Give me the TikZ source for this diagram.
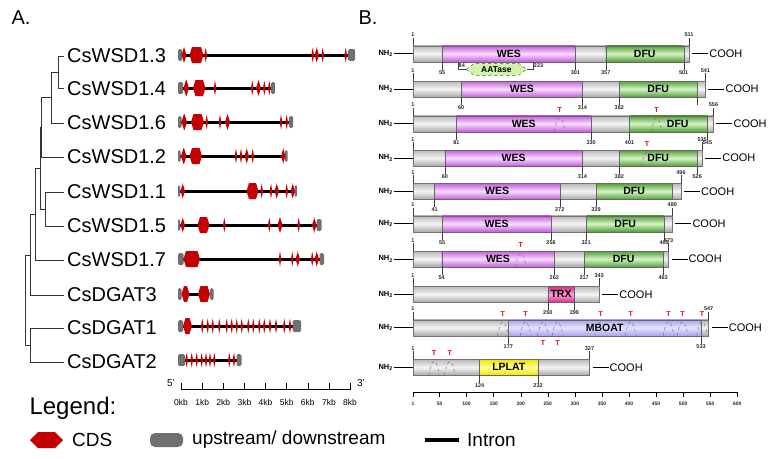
\documentclass[tikz,border=0pt]{standalone}
\usepackage{fontspec}
\setmainfont{Liberation Sans}
\usetikzlibrary{positioning}

\definecolor{cdsred}{RGB}{196,0,0}
\definecolor{utrgray}{RGB}{112,112,112}
\definecolor{wesdk}{RGB}{200,90,225}
\definecolor{weslt}{RGB}{247,222,252}
\definecolor{dfudk}{RGB}{80,160,55}
\definecolor{dfult}{RGB}{214,244,198}
\definecolor{trxdk}{RGB}{222,40,145}
\definecolor{trxlt}{RGB}{255,160,210}
\definecolor{mbodk}{RGB}{165,165,238}
\definecolor{mbolt}{RGB}{228,228,255}
\definecolor{lpldk}{RGB}{240,228,0}
\definecolor{lpllt}{RGB}{255,255,150}
\definecolor{aatfill}{RGB}{205,245,165}
\definecolor{tred}{RGB}{225,0,0}

\tikzset{
  cds/.style={fill=cdsred},
  utr/.style={fill=utrgray, rounded corners=1.5pt},
  intron/.style={line width=3pt, black},
  tree/.style={line width=0.6pt, black!80},
  panel/.style={font=\fontsize{20}{24}\selectfont},
  gname/.style={font=\fontsize{20}{24}\selectfont, anchor=west, inner sep=3pt},
  kblab/.style={font=\fontsize{8.5}{10}\selectfont, inner sep=0.5pt},
  pbar/.style={draw=black!55, line width=0.4pt, top color=black!28, bottom color=black!34, middle color=black!4},
  wes/.style={draw=black!60, line width=0.4pt, top color=wesdk, bottom color=wesdk, middle color=weslt},
  dfu/.style={draw=black!60, line width=0.4pt, top color=dfudk, bottom color=dfudk, middle color=dfult},
  trx/.style={draw=black!60, line width=0.4pt, top color=trxdk, bottom color=trxdk, middle color=trxlt},
  mboat/.style={draw=black!60, line width=0.4pt, top color=mbodk, bottom color=mbodk, middle color=mbolt},
  lplat/.style={draw=black!60, line width=0.4pt, top color=lpldk, bottom color=lpldk, middle color=lpllt},
  aat/.style={draw=black!70, dashed, line width=0.4pt, fill=aatfill},
  dlab/.style={font=\fontsize{10.5}{12}\selectfont\bfseries, inner sep=0pt},
  numlab/.style={font=\fontsize{5.5}{6}\selectfont\bfseries, inner sep=0.6pt, text=black!85},
  tmark/.style={font=\fontsize{7}{8}\selectfont\bfseries, text=tred, inner sep=0pt},
  tk/.style={line width=0.4pt, black!75},
  conn/.style={line width=0.8pt, black},
  arcd/.style={dashed, line width=0.4pt, black!60},
  nh/.style={font=\fontsize{7.5}{9}\selectfont\bfseries, inner sep=1pt},
  cooh/.style={font=\fontsize{11}{13}\selectfont, inner sep=1pt},
  legend/.style={font=\fontsize{24}{28}\selectfont, anchor=west},
  legitem/.style={font=\fontsize{19}{22}\selectfont, anchor=west, inner sep=1pt}
}

% gene structure pieces (x in px, y row)
\newcommand{\utr}[3]{\fill[utr] (#1,#3-6) rectangle (#2,#3+6);}
\newcommand{\cds}[3]{\fill[cds] (#1,#3) -- (#1+2.5,#3-8) -- (#2-2.5,#3-8) -- (#2,#3) -- (#2-2.5,#3+8) -- (#1+2.5,#3+8) -- cycle;}
\newcommand{\thinex}[2]{\fill[cds] (#1-1.3,#2) -- (#1,#2-7.5) -- (#1+1.3,#2) -- (#1,#2+7.5) -- cycle;}

% protein pieces (x in aa)
\newcount\labn
\newcommand{\toplab}[3]{\global\advance\labn by 1\relax
  \draw[tk] (#1,#2-8) -- (#1,#2-16) node[numlab, anchor=south] (lb\the\labn) {#3};}
\newcommand{\botlab}[3]{\global\advance\labn by 1\relax
  \draw[tk] (#1,#2+8) -- (#1,#2+16) node[numlab, anchor=north] (lb\the\labn) {#3};}
\newcommand{\prow}[3]{%
  \coordinate (#1l) at (1,#2);
  \coordinate (#1r) at (#3,#2);
  \draw[pbar] (1,#2-8) rectangle (#3,#2+8);
  \node[nh, left=19pt of #1l] (#1nh) {NH\textsubscript{2}};
  \draw[conn] (#1nh) -- (#1l);
  \node[cooh, right=19pt of #1r] (#1co) {COOH};
  \draw[conn] ([xshift=3pt]#1r) -- (#1co);
  \toplab{1}{#2}{1}\toplab{#3}{#2}{#3}}
\newcommand{\pdom}[6]{\draw[#1] (#2,#4-8) rectangle (#3,#4+8);
  \node[dlab] (#6) at ({(#2+#3)/2},#4) {#5};}
\newcommand{\ttop}[2]{\global\advance\labn by 1\relax
  \draw[arcd] (#1-10,#2+8) parabola bend (#1,#2-6) (#1+10,#2+8);
  \node[tmark] (lb\the\labn) at (#1,#2-14) {T};}
\newcommand{\tbot}[2]{\global\advance\labn by 1\relax
  \draw[arcd] (#1-10,#2+8) parabola bend (#1,#2-6) (#1+10,#2+8);
  \node[tmark] (lb\the\labn) at (#1,#2+15.5) {T};}

\begin{document}
\begin{tikzpicture}[x=1pt,y=-1pt]
\useasboundingbox (0,0) rectangle (782,458);

\node[panel] (pa) at (21,18) {A.};
\node[panel] (pb) at (368,18) {B.};

% gene names
\node[gname] (g13) at (64,56) {CsWSD1.3};
\node[gname] (g14) at (64,88.5) {CsWSD1.4};
\node[gname] (g16) at (64,123) {CsWSD1.6};
\node[gname] (g12) at (64,157) {CsWSD1.2};
\node[gname] (g11) at (64,192) {CsWSD1.1};
\node[gname] (g15) at (64,226) {CsWSD1.5};
\node[gname] (g17) at (64,260) {CsWSD1.7};
\node[gname] (d3) at (64,295) {CsDGAT3};
\node[gname] (d1) at (64,328) {CsDGAT1};
\node[gname] (d2) at (64,362) {CsDGAT2};

% tree
\coordinate (n1) at (58,72);
\draw[tree] (n1) |- (g13.west); \draw[tree] (n1) |- (g14.west);
\coordinate (n2) at (51,97);
\draw[tree] (n2) |- (n1); \draw[tree] (n2) |- (g16.west);
\coordinate (n3) at (41,127);
\draw[tree] (n3) |- (n2); \draw[tree] (n3) |- (g12.west);
\coordinate (n4) at (45,209);
\draw[tree] (n4) |- (g11.west); \draw[tree] (n4) |- (g15.west);
\coordinate (n5) at (40,168);
\draw[tree] (n5) |- (n3); \draw[tree] (n5) |- (n4);
\coordinate (n6) at (35,214);
\draw[tree] (n6) |- (n5); \draw[tree] (n6) |- (g17.west);
\coordinate (n7) at (30,255);
\draw[tree] (n7) |- (n6); \draw[tree] (n7) |- (d3.west);
\coordinate (n8) at (30,345);
\draw[tree] (n8) |- (d1.west); \draw[tree] (n8) |- (d2.west);
\coordinate (n9) at (25,300);
\draw[tree] (n9) |- (n7); \draw[tree] (n9) |- (n8);

% CsWSD1.3
\draw[intron] (182,55) -- (348,55);
\utr{178}{182}{55} \utr{348}{355}{55}
\cds{181.5}{186.5}{55} \cds{189.5}{203.5}{55} \cds{314.5}{319}{55}
\foreach \e in {205.7,312.7,322.7,345.7} \thinex{\e}{55};
% CsWSD1.4
\draw[intron] (183,88) -- (272,88);
\utr{178}{183}{88} \utr{271}{275}{88}
\cds{183.5}{189}{88} \cds{193}{205.5}{88} \cds{256}{261}{88}
\foreach \e in {215,252.3,264.3,269.3} \thinex{\e}{88};
% CsWSD1.6
\draw[intron] (181,122) -- (290,122);
\utr{178}{181.5}{122} \utr{289}{293}{122}
\cds{181.5}{187}{122} \cds{191}{204}{122} \cds{225}{230}{122}
\foreach \e in {206.7,220,281,286.7} \thinex{\e}{122};
% CsWSD1.2
\draw[intron] (180,156) -- (285,156);
\utr{178}{180.5}{156} \utr{285}{287.5}{156}
\cds{181}{186.5}{156} \cds{189.5}{202}{156} \cds{244.5}{249}{156} \cds{281}{285.5}{156}
\foreach \e in {236,241,252.7} \thinex{\e}{156};
% CsWSD1.1
\draw[intron] (180,191) -- (295,191);
\utr{178}{180}{191} \utr{294.5}{297}{191}
\cds{180.5}{185}{191} \cds{246.5}{258.5}{191} \cds{274.5}{279}{191} \cds{290.5}{295}{191}
\foreach \e in {261.7,271,286.7} \thinex{\e}{191};
% CsWSD1.5
\draw[intron] (180,225) -- (317,225);
\utr{178}{180}{225} \utr{316.5}{321.5}{225}
\cds{180.5}{185}{225} \cds{197.5}{209.5}{225} \cds{277.5}{282.5}{225} \cds{312}{316.5}{225}
\foreach \e in {224.3,269.3,298.7} \thinex{\e}{225};
% CsWSD1.7
\draw[intron] (183,259) -- (320,259);
\utr{178}{183.5}{259} \utr{319.5}{324}{259}
\cds{183.5}{200}{259} \cds{295.5}{300}{259} \cds{314.5}{319}{259}
\foreach \e in {280,292.3,312.2} \thinex{\e}{259};
% CsDGAT3
\draw[intron] (189,294) -- (199,294);
\utr{178}{181.5}{294} \utr{210}{213.5}{294}
\cds{181.5}{189.5}{294} \cds{198}{210}{294}
% CsDGAT1
\draw[intron] (183,326) -- (293,326);
\utr{178}{183}{326} \utr{292.7}{301}{326}
\cds{183}{192}{326}
\foreach \e in {202.3,207.7,212.7,219.3,226.7,231.7,236.7,241.7,248.3,253.3,259.3,264.3,270,276,284.3,290} \thinex{\e}{326};
% CsDGAT2
\draw[intron] (185,360) -- (237,360);
\utr{178}{185}{360} \utr{236.5}{241.5}{360}
\foreach \e in {186.7,191.7,196.7,201.7,206,210,214.3,229.3,234} \thinex{\e}{360};

% kb scale
\draw[tk, black] (181,389.5) -- (350,389.5);
\foreach \k in {0,...,8} {
  \draw[tk, black] ({181+21.125*\k},389.5) -- ({181+21.125*\k},382.5);
  \node[kblab] (kb\k) at ({181+21.125*\k},402) {\k kb};
}
\node[kblab, font=\fontsize{10}{12}\selectfont] (p5) at (171,383) {5'};
\node[kblab, font=\fontsize{10}{12}\selectfont] (p3) at (361,383) {3'};

% protein domains
\begin{scope}[shift={(412.46,0)}, x=0.5414pt]
% CsWSD1.3
\prow{r1}{53.7}{511}
\pdom{wes}{55}{301}{53.7}{WES}{r1w} \pdom{dfu}{357}{501}{53.7}{DFU}{r1d}
\botlab{55}{53.7}{55} \botlab{301}{53.7}{301} \botlab{357}{53.7}{357} \botlab{501}{53.7}{501}
\draw[tk] (84,61.7) -- (84,69.3) -- (99,69.3);
\draw[tk] (223,61.7) -- (223,69.3) -- (211,69.3);
\draw[aat] (99,69.3) -- (114,63.3) -- (196,63.3) -- (211,69.3) -- (196,75.3) -- (114,75.3) -- cycle;
\node[dlab, font=\fontsize{8.5}{10}\selectfont\bfseries] (aats) at (155,69.3) {AATase};
\node[numlab, anchor=west] (a84) at (84,65.6) {84};
\node[numlab, anchor=west] (a223) at (223,65.6) {223};
% CsWSD1.4
\prow{r2}{89}{541}
\pdom{wes}{90}{314}{89}{WES}{r2w} \pdom{dfu}{382}{526}{89}{DFU}{r2d}
\botlab{90}{89}{60} \botlab{314}{89}{314} \botlab{382}{89}{382} \botlab{526}{89}{}
% CsWSD1.6
\prow{r3}{123.7}{556}
\pdom{wes}{81}{330}{123.7}{WES}{r3w} \pdom{dfu}{401}{545}{123.7}{}{r3d}
\node[dlab] (r3dt) at (490,123.7) {DFU};
\botlab{81}{123.7}{81} \botlab{330}{123.7}{330} \botlab{401}{123.7}{401} \botlab{545}{123.7}{545}
\ttop{272}{123.7} \ttop{451}{123.7}
% CsWSD1.2
\prow{r4}{158}{535}
\pdom{wes}{60}{314}{158}{WES}{r4w} \pdom{dfu}{382}{526}{158}{DFU}{r4d}
\botlab{60}{158}{60} \botlab{314}{158}{314} \botlab{382}{158}{382} \botlab{526}{158}{526}
\ttop{433}{158}
% CsWSD1.1
\prow{r5}{191.3}{496}
\pdom{wes}{41}{272}{191.3}{WES}{r5w} \pdom{dfu}{339}{480}{191.3}{DFU}{r5d}
\botlab{41}{191.3}{41} \botlab{272}{191.3}{272} \botlab{339}{191.3}{339}
% CsWSD1.5
\prow{r6}{223.7}{480}
\pdom{wes}{55}{256}{223.7}{WES}{r6w} \pdom{dfu}{321}{465}{223.7}{DFU}{r6d}
\botlab{55}{223.7}{55} \botlab{256}{223.7}{256} \botlab{321}{223.7}{321} \botlab{465}{223.7}{465}
% CsWSD1.7
\prow{r7}{259}{473}
\pdom{wes}{54}{262}{259}{WES}{r7w} \pdom{dfu}{317}{463}{259}{DFU}{r7d}
\botlab{54}{259}{54} \botlab{262}{259}{262} \botlab{317}{259}{317} \botlab{463}{259}{463}
\ttop{200}{259}
% CsDGAT3
\prow{r8}{294.3}{345}
\pdom{trx}{250}{299}{294.3}{TRX}{r8t}
\botlab{250}{294.3}{250} \botlab{299}{294.3}{299}
% CsDGAT1
\prow{r9}{327.7}{547}
\pdom{mboat}{177}{533}{327.7}{MBOAT}{r9m}
\botlab{177}{327.7}{177} \botlab{533}{327.7}{533}
\foreach \t in {167,209,348,403,473,499,535} \ttop{\t}{327.7};
\foreach \t in {241,268} \tbot{\t}{327.7};
% CsDGAT2
\prow{r10}{367.3}{327}
\pdom{lplat}{124}{232}{367.3}{LPLAT}{r10p}
\botlab{124}{367.3}{124} \botlab{232}{367.3}{232}
\ttop{40}{367.3} \ttop{69}{367.3}
% aa scale
\draw[tk, black] (1,391.7) -- (600,391.7);
\foreach \t in {1,50,100,150,200,250,300,350,400,450,500,550,600} {
  \draw[tk, black] (\t,391.7) -- (\t,397);
  \node[numlab, font=\fontsize{5}{6}\selectfont\bfseries] (ax\t) at (\t,404) {\t};
}
\end{scope}

% legend
\node[legend] (lg) at (26,408) {Legend:};
\fill[cds] (30,440) -- (38,432) -- (55,432) -- (63,440) -- (55,448) -- (38,448) -- cycle;
\node[legitem] (lcds) at (71,440) {CDS};
\fill[utr, rounded corners=5pt] (150,433) rectangle (183,447);
\node[legitem] (lutr) at (191,440) {upstream/ downstream};
\draw[intron, line width=3.5pt] (425,440) -- (459,440);
\node[legitem] (lint) at (466,440) {Intron};
\end{tikzpicture}
\end{document}
